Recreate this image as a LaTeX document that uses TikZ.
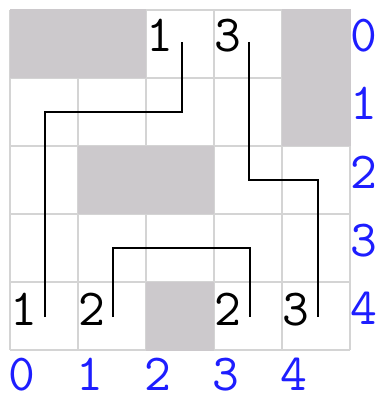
\documentclass[tikz,border=0pt]{standalone}
\usepackage{fontspec}
\definecolor{cellgray}{RGB}{204,201,204}
\definecolor{gridgray}{RGB}{212,212,212}
\definecolor{labelblue}{RGB}{30,30,255}
\begin{document}
\begin{tikzpicture}[x=1pt,y=-1pt,
  gridline/.style={draw=gridgray,line width=2pt},
  shade/.style={fill=cellgray},
  clue/.style={font=\ttfamily\fontsize{52}{52}\selectfont,inner sep=0pt,anchor=base west,text=black},
  axislabel/.style={font=\ttfamily\fontsize{52}{52}\selectfont,inner sep=0pt,anchor=base west,text=labelblue},
  link/.style={draw=black,line width=2.2pt}]
\useasboundingbox (0,0) rectangle (379,395);
\fill[white] (0,0) rectangle (379,395);
% grid
\foreach \i in {0,...,5} {
  \draw[gridline] (10+68*\i,10) -- (10+68*\i,350);
  \draw[gridline] (10,10+68*\i) -- (350,10+68*\i);
}
% shaded cells
\fill[shade] (10,9) rectangle (146,78);
\fill[shade] (282,9) rectangle (351,146);
\fill[shade] (78,146) rectangle (214,214);
\fill[shade] (146,282) rectangle (214,351);
% clues
\node[clue] (c20) at (146,52) {1};
\node[clue] (c30) at (214,52) {3};
\node[clue] (c04) at (10,325) {1};
\node[clue] (c14) at (78,325) {2};
\node[clue] (c34) at (214,325) {2};
\node[clue] (c44) at (282,325) {3};
% axis labels
\foreach \r in {0,...,4} {
  \node[axislabel] (r\r) at (350,52+68*\r) {\r};
}
\foreach \c in {0,...,4} {
  \node[axislabel] (k\c) at (8+68*\c,390) {\c};
}
% path coordinates
\coordinate (a0) at (45,317);
\coordinate (a1) at (45,112);
\coordinate (a2) at (182,112);
\coordinate (a3) at (182,42);
\coordinate (b0) at (249,42);
\coordinate (b1) at (249,180);
\coordinate (b2) at (318,180);
\coordinate (b3) at (318,317);
\coordinate (d0) at (113,317);
\coordinate (d1) at (113,248);
\coordinate (d2) at (250,248);
\coordinate (d3) at (250,317);
\draw[link] (a0) -- (a1) -- (a2) -- (a3);
\draw[link] (b0) -- (b1) -- (b2) -- (b3);
\draw[link] (d0) -- (d1) -- (d2) -- (d3);
\end{tikzpicture}
\end{document}
